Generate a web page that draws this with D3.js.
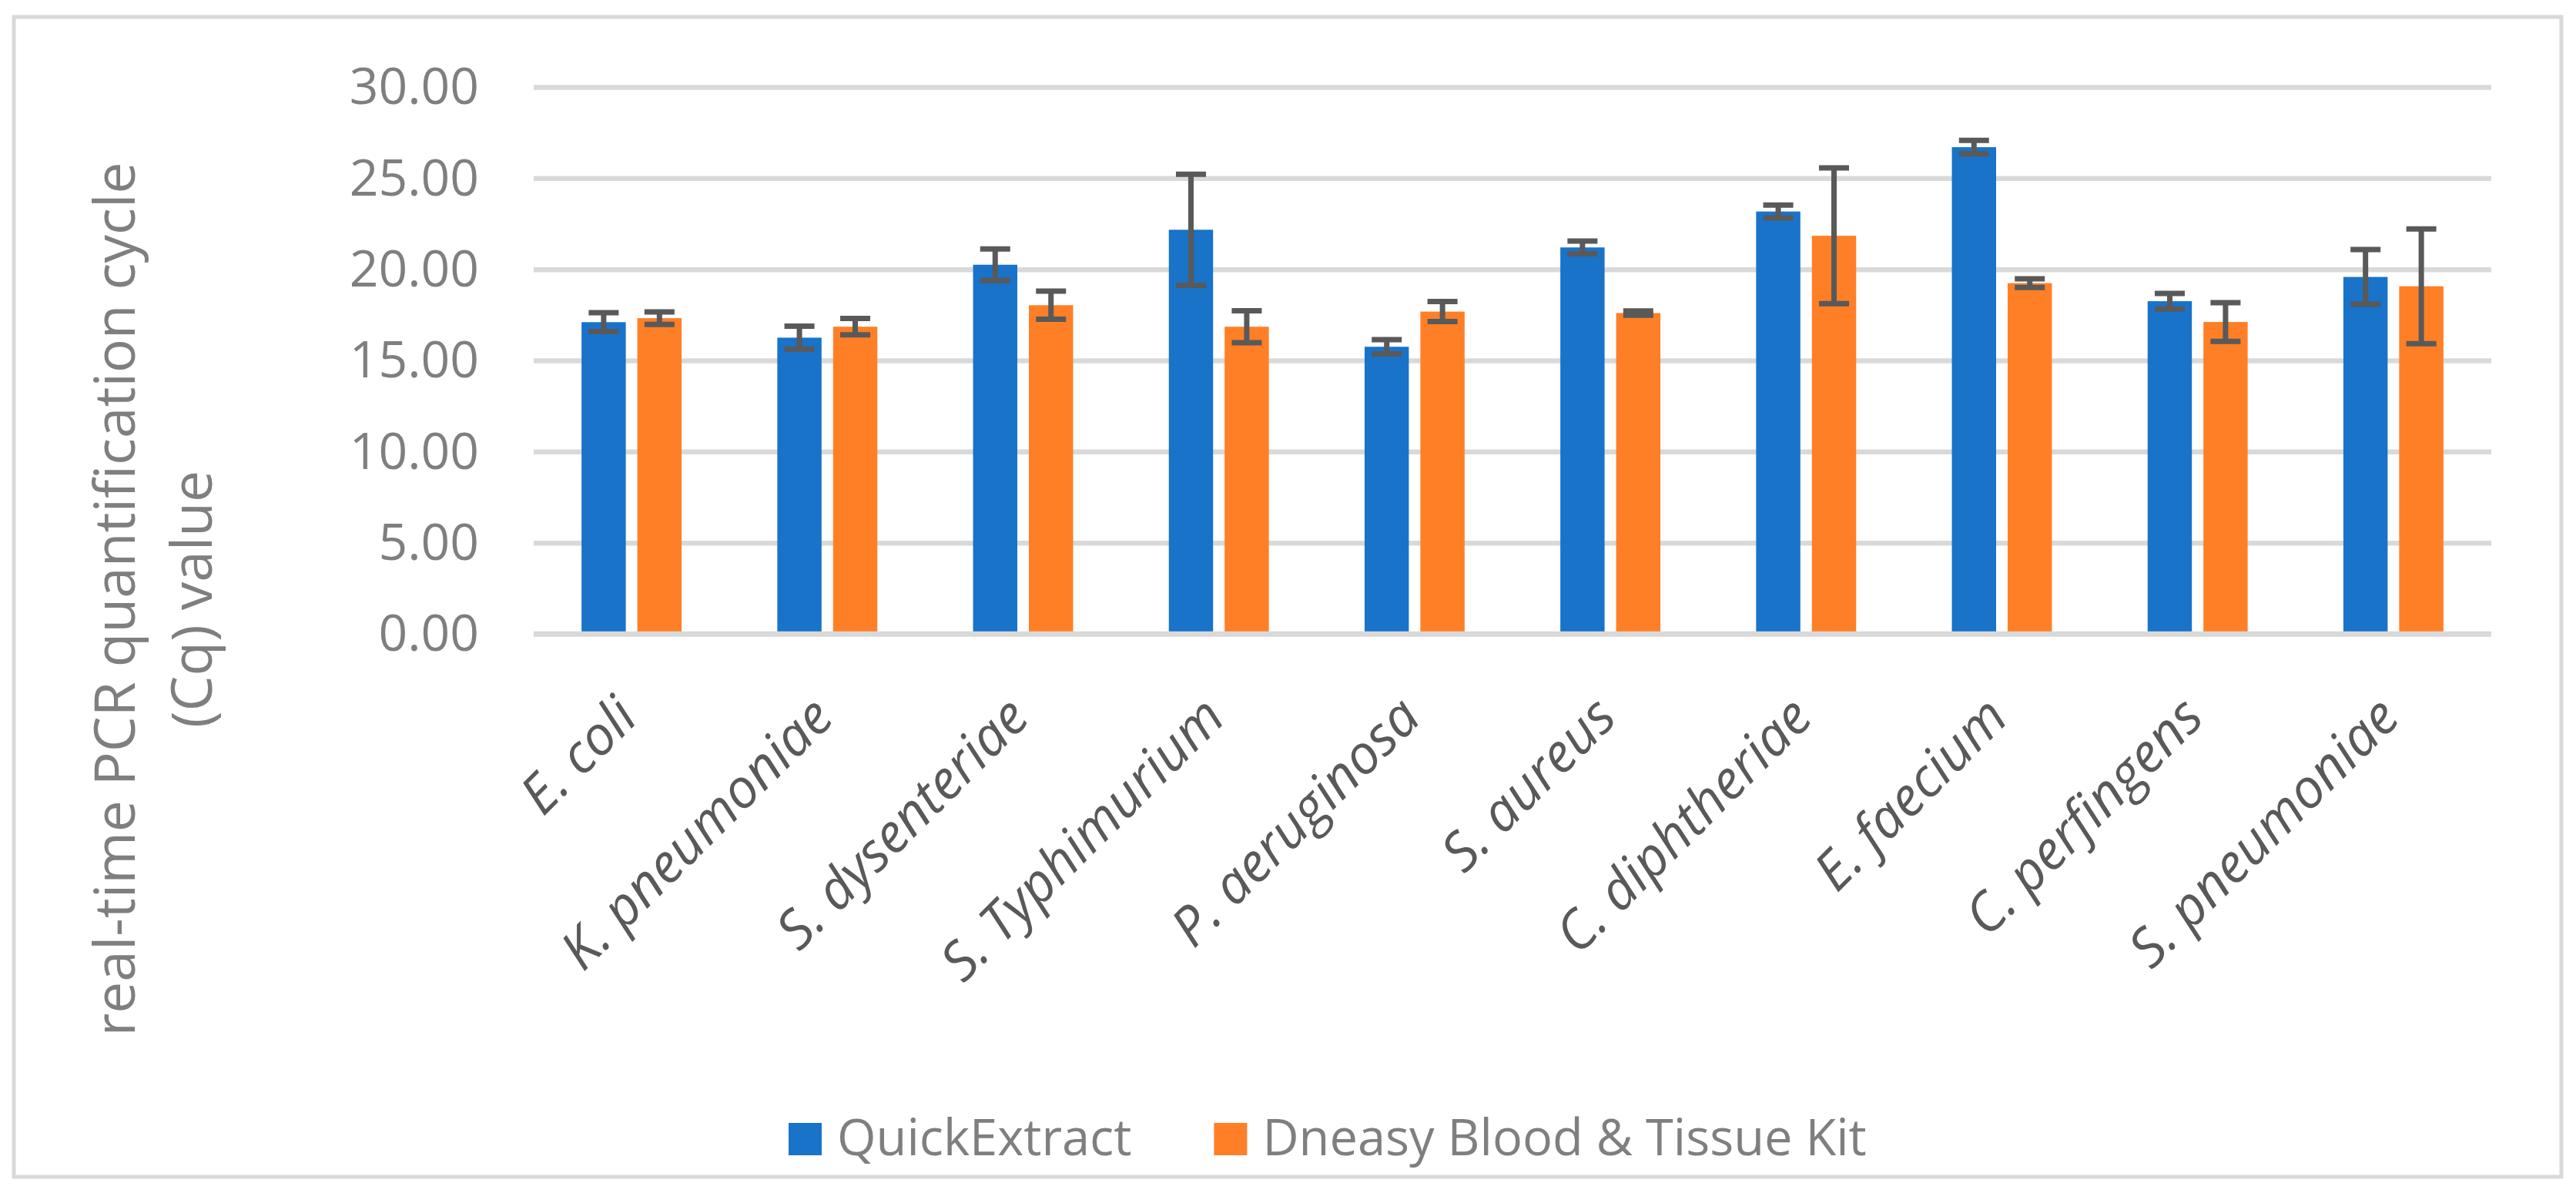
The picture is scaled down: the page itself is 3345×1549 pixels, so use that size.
<!DOCTYPE html>
<html>
<head>
<meta charset="utf-8">
<script src="https://cdn.jsdelivr.net/npm/d3@7"></script>
<style>
  body { margin: 0; background: #fff; }
  svg { display: block; }
</style>
</head>
<body>
<div id="chart"></div>
<script>
const categories = ["E. coli", "K. pneumoniae", "S. dysenteriae", "S. Typhimurium", "P. aeruginosa",
  "S. aureus", "C. diphtheriae", "E. faecium", "C. perfingens", "S. pneumoniae"];
const seriesNames = ["QuickExtract", "Dneasy Blood & Tissue Kit"];
const quickExtract = [17.10, 16.25, 20.25, 22.17, 15.75, 21.20, 23.17, 26.70, 18.25, 19.58];
const quickExtractErr = [0.52, 0.63, 0.87, 3.05, 0.39, 0.35, 0.35, 0.37, 0.43, 1.50];
const dneasy = [17.32, 16.85, 18.03, 16.85, 17.68, 17.60, 21.84, 19.24, 17.11, 19.07];
const dneasyErr = [0.34, 0.45, 0.77, 0.88, 0.55, 0.12, 3.72, 0.24, 1.06, 3.15];
const yTicks = [0, 5, 10, 15, 20, 25, 30];

const width = 3345, height = 1549;
const plot = { left: 693, right: 3235, top: 113, bottom: 823 };
const colors = ["#1873c9", "#ff7f27"];

const svg = d3.select("#chart").append("svg")
  .attr("width", width).attr("height", height);

// chart border
svg.append("rect")
  .attr("x", 18).attr("y", 22).attr("width", 3308).attr("height", 1506)
  .attr("fill", "#fff").attr("stroke", "#d9d9d9").attr("stroke-width", 5);

const x0 = d3.scaleBand().domain(categories)
  .range([plot.left, plot.right]).paddingInner(0.489).paddingOuter(0.2445);
const x1 = d3.scaleBand().domain(seriesNames)
  .range([0, x0.bandwidth()]).paddingInner(0.207);
const y = d3.scaleLinear().domain([0, 30]).range([plot.bottom, plot.top]);

// gridlines + tick labels
const yAxis = svg.append("g")
  .attr("transform", `translate(${plot.left},0)`)
  .call(d3.axisLeft(y).tickValues(yTicks).tickFormat(d3.format(".2f"))
    .tickSize(-(plot.right - plot.left)).tickPadding(71));
yAxis.select(".domain").remove();
yAxis.selectAll(".tick line").attr("stroke", "#d9d9d9").attr("stroke-width", 6.5);
yAxis.selectAll(".tick text")
  .attr("fill", "#7f7f7f").attr("font-family", "'Open Sans', sans-serif")
  .attr("font-size", 66).attr("dy", "0.33em");

const rows = categories.map((c, i) => ({
  cat: c,
  vals: [
    { s: seriesNames[0], v: quickExtract[i], e: quickExtractErr[i] },
    { s: seriesNames[1], v: dneasy[i], e: dneasyErr[i] }
  ]
}));

const groups = svg.append("g").selectAll("g")
  .data(rows).join("g")
  .attr("transform", d => `translate(${x0(d.cat)},0)`);

groups.selectAll("rect")
  .data(d => d.vals).join("rect")
  .attr("x", d => x1(d.s))
  .attr("y", d => y(d.v))
  .attr("width", x1.bandwidth())
  .attr("height", d => y(0) - y(d.v))
  .attr("fill", (d, i) => colors[i]);

// error bars
const capW = 39;
const err = groups.selectAll("g.err")
  .data(d => d.vals).join("g").attr("class", "err")
  .attr("stroke", "#595959").attr("stroke-width", 7);
err.append("line")
  .attr("x1", d => x1(d.s) + x1.bandwidth() / 2)
  .attr("x2", d => x1(d.s) + x1.bandwidth() / 2)
  .attr("y1", d => y(d.v - d.e)).attr("y2", d => y(d.v + d.e));
err.append("line")
  .attr("x1", d => x1(d.s) + x1.bandwidth() / 2 - capW / 2)
  .attr("x2", d => x1(d.s) + x1.bandwidth() / 2 + capW / 2)
  .attr("y1", d => y(d.v + d.e)).attr("y2", d => y(d.v + d.e));
err.append("line")
  .attr("x1", d => x1(d.s) + x1.bandwidth() / 2 - capW / 2)
  .attr("x2", d => x1(d.s) + x1.bandwidth() / 2 + capW / 2)
  .attr("y1", d => y(d.v - d.e)).attr("y2", d => y(d.v - d.e));

// horizontal axis line
svg.append("line")
  .attr("x1", plot.left).attr("x2", plot.right)
  .attr("y1", y(0)).attr("y2", y(0))
  .attr("stroke", "#d9d9d9").attr("stroke-width", 6.5);

// category labels
svg.append("g").selectAll("text")
  .data(categories).join("text")
  .attr("transform", d => `translate(${x0(d) + x0.bandwidth() / 2 + 11},935) rotate(-45)`)
  .attr("text-anchor", "end")
  .attr("font-family", "'Open Sans', sans-serif")
  .attr("font-style", "italic")
  .attr("font-size", 70)
  .attr("fill", "#595959")
  .text(d => d);

// y axis title
const title = svg.append("text")
  .attr("transform", "translate(175,778) rotate(-90)")
  .attr("text-anchor", "middle")
  .attr("font-family", "'Open Sans', sans-serif")
  .attr("font-size", 73)
  .attr("fill", "#7f7f7f");
title.append("tspan").attr("x", 0).attr("dy", 0).text("real-time PCR quantification cycle");
title.append("tspan").attr("x", 0).attr("dy", 100).text("(Cq) value");

// legend
const legend = svg.append("g");
let lx = 1024;
seriesNames.forEach((name, i) => {
  legend.append("rect")
    .attr("x", lx).attr("y", 1458).attr("width", 43).attr("height", 42)
    .attr("fill", colors[i]);
  const t = legend.append("text")
    .attr("x", lx + 63).attr("y", 1500)
    .attr("font-family", "'Open Sans', sans-serif")
    .attr("font-size", 65)
    .attr("fill", "#7f7f7f")
    .text(name);
  lx += 63 + t.node().getComputedTextLength() + 107;
});
</script>
</body>
</html>
